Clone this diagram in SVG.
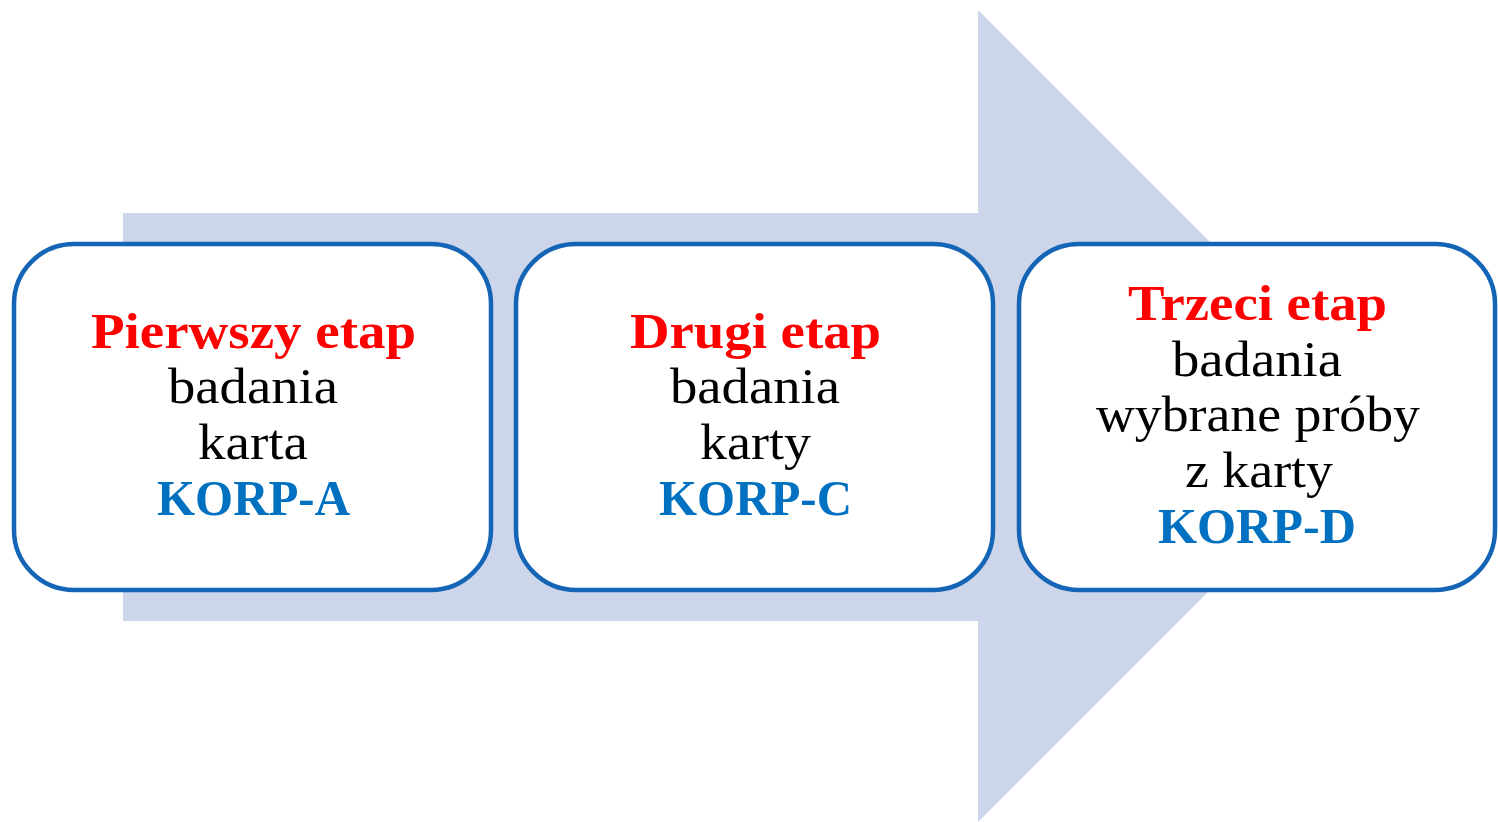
<svg xmlns="http://www.w3.org/2000/svg" width="1498" height="822" viewBox="0 0 1498 822">
<style>
.box{fill:#fff;stroke:#1565B6;stroke-width:4.5}
.t{font-family:"Liberation Serif","DejaVu Serif",serif;font-size:50px;text-anchor:middle}
.r{fill:#FF0000;font-weight:bold}
.k{fill:#000}
.b{fill:#0070C0;font-weight:bold}
</style>
<g id="arrow">
<polygon points="123,213 978,213 978,10 1384,416 978,822 978,621 123,621" fill="#CDD5EA"/>
</g>
<g id="connectors"></g>
<g id="node1">
<rect class="box" x="14" y="244" width="477" height="346" rx="60" ry="60"/>
<text class="t r" x="253.5" y="348" textLength="325" lengthAdjust="spacingAndGlyphs">Pierwszy etap</text>
<text class="t k" x="253" y="403" textLength="170" lengthAdjust="spacingAndGlyphs">badania</text>
<text class="t k" x="253" y="459" textLength="110" lengthAdjust="spacingAndGlyphs">karta</text>
<text class="t b" x="253.5" y="515" textLength="193" lengthAdjust="spacingAndGlyphs">KORP-A</text>
</g>
<g id="node2">
<rect class="box" x="516" y="244" width="477" height="346" rx="60" ry="60"/>
<text class="t r" x="755.5" y="348" textLength="251" lengthAdjust="spacingAndGlyphs">Drugi etap</text>
<text class="t k" x="755" y="403" textLength="170" lengthAdjust="spacingAndGlyphs">badania</text>
<text class="t k" x="755.5" y="459" textLength="111" lengthAdjust="spacingAndGlyphs">karty</text>
<text class="t b" x="755.5" y="515" textLength="193" lengthAdjust="spacingAndGlyphs">KORP-C</text>
</g>
<g id="node3">
<rect class="box" x="1019" y="244" width="476" height="346" rx="60" ry="60"/>
<text class="t r" x="1257.5" y="320" textLength="259" lengthAdjust="spacingAndGlyphs">Trzeci etap</text>
<text class="t k" x="1257" y="376" textLength="170" lengthAdjust="spacingAndGlyphs">badania</text>
<text class="t k" x="1258" y="431" textLength="324" lengthAdjust="spacingAndGlyphs">wybrane próby</text>
<text class="t k" x="1259" y="487" textLength="148" lengthAdjust="spacingAndGlyphs">z karty</text>
<text class="t b" x="1257" y="543" textLength="198" lengthAdjust="spacingAndGlyphs">KORP-D</text>
</g>
</svg>
